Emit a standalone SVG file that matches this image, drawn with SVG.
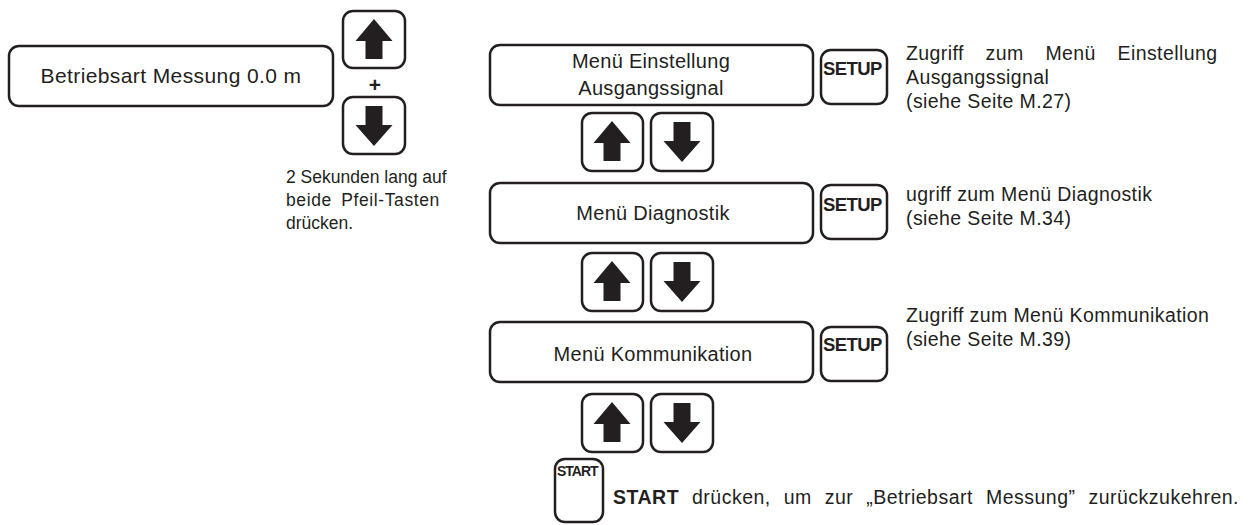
<svg xmlns="http://www.w3.org/2000/svg" xmlns:xlink="http://www.w3.org/1999/xlink" width="1260" height="525" viewBox="0 0 1260 525">
<style>
.box{fill:#fff;stroke:#231f20;stroke-width:2.5}
.t{font-family:"Liberation Sans",Arial,sans-serif;fill:#231f20}
.m{font-size:20px;letter-spacing:0.3px;text-anchor:middle}
.r{font-size:19.5px;letter-spacing:0.4px}
.k{font-family:"Liberation Sans",Arial,sans-serif;font-weight:bold;font-size:18.5px;fill:#231f20;letter-spacing:-0.6px}
.arr{fill:#231f20}
</style>
<defs>
<path id="up" d="M0,8 L18.5,30 L8.5,30 L8.5,48 L-8.5,48 L-8.5,30 L-18.5,30 Z"/>
<path id="down" d="M-8.5,10 L8.5,10 L8.5,29 L18.5,29 L0,50 L-18.5,29 L-8.5,29 Z"/>
</defs>
<rect width="1260" height="525" fill="#fff"/>

<g id="betriebsart">
<rect class="box" x="9" y="46" width="324" height="60" rx="10"/>
<text class="t" x="171" y="83" font-size="21" letter-spacing="0.4" text-anchor="middle">Betriebsart Messung 0.0 m</text>
</g>

<g id="key-up-start">
<rect class="box" x="343" y="11" width="62" height="57" rx="10"/>
<use href="#up" class="arr" x="374" y="11"/>
</g>
<text class="t" x="375" y="92" font-size="21" font-weight="bold" text-anchor="middle">+</text>
<g id="key-down-start">
<rect class="box" x="343" y="97" width="62" height="57" rx="10"/>
<use href="#down" class="arr" x="374" y="96"/>
</g>

<g id="hint-left">
<text class="t" font-size="17.5" x="286" y="183">2 Sekunden lang auf</text>
<text class="t" font-size="17.5" x="286" y="206" letter-spacing="0.6" word-spacing="4">beide Pfeil-Tasten</text>
<text class="t" font-size="17.5" x="286" y="229">drücken.</text>
</g>

<g id="menu-einstellung">
<rect class="box" x="490" y="45" width="323" height="60" rx="10"/>
<text class="t m" x="651" y="68">Menü Einstellung</text>
<text class="t m" x="651" y="95">Ausgangssignal</text>
</g>
<g id="setup-1">
<rect class="box" x="821" y="50" width="66" height="54" rx="10"/>
<text class="k" x="823" y="75">SETUP</text>
</g>
<g id="info-1">
<text class="t r" x="906" y="60" word-spacing="16">Zugriff zum Menü Einstellung</text>
<text class="t r" x="906" y="84">Ausgangssignal</text>
<text class="t r" x="906" y="108">(siehe Seite M.27)</text>
</g>

<g id="keys-row-1">
<rect class="box" x="582" y="113" width="61" height="58" rx="10"/>
<use href="#up" class="arr" x="612" y="113"/>
<rect class="box" x="651" y="113" width="62" height="58" rx="10"/>
<use href="#down" class="arr" x="682" y="112"/>
</g>

<g id="menu-diagnostik">
<rect class="box" x="490" y="183" width="323" height="60" rx="10"/>
<text class="t m" x="653" y="220">Menü Diagnostik</text>
</g>
<g id="setup-2">
<rect class="box" x="821" y="185" width="66" height="54" rx="10"/>
<text class="k" x="823" y="211">SETUP</text>
</g>
<g id="info-2">
<text class="t r" x="906" y="201">ugriff zum Menü Diagnostik</text>
<text class="t r" x="906" y="225">(siehe Seite M.34)</text>
</g>

<g id="keys-row-2">
<rect class="box" x="582" y="253" width="61" height="58" rx="10"/>
<use href="#up" class="arr" x="612" y="253"/>
<rect class="box" x="651" y="253" width="62" height="58" rx="10"/>
<use href="#down" class="arr" x="682" y="252"/>
</g>

<g id="menu-kommunikation">
<rect class="box" x="490" y="322" width="323" height="60" rx="10"/>
<text class="t m" x="653" y="361">Menü Kommunikation</text>
</g>
<g id="setup-3">
<rect class="box" x="821" y="327" width="66" height="54" rx="10"/>
<text class="k" x="823" y="351">SETUP</text>
</g>
<g id="info-3">
<text class="t r" x="906" y="322">Zugriff zum Menü Kommunikation</text>
<text class="t r" x="906" y="346">(siehe Seite M.39)</text>
</g>

<g id="keys-row-3">
<rect class="box" x="582" y="394" width="61" height="58" rx="10"/>
<use href="#up" class="arr" x="612" y="394"/>
<rect class="box" x="651" y="394" width="62" height="58" rx="10"/>
<use href="#down" class="arr" x="682" y="393"/>
</g>

<g id="start-key">
<rect class="box" x="555" y="459" width="48" height="63" rx="10"/>
<text class="k" x="557" y="476" style="font-size:14px;letter-spacing:-1px">START</text>
</g>
<g id="start-hint">
<text class="t" x="613" y="504" font-size="19.5" letter-spacing="0.5" word-spacing="7"><tspan font-weight="bold">START</tspan> drücken, um zur „Betriebsart Messung” zurückzukehren.</text>
</g>
<g id="connectors"/>
</svg>
